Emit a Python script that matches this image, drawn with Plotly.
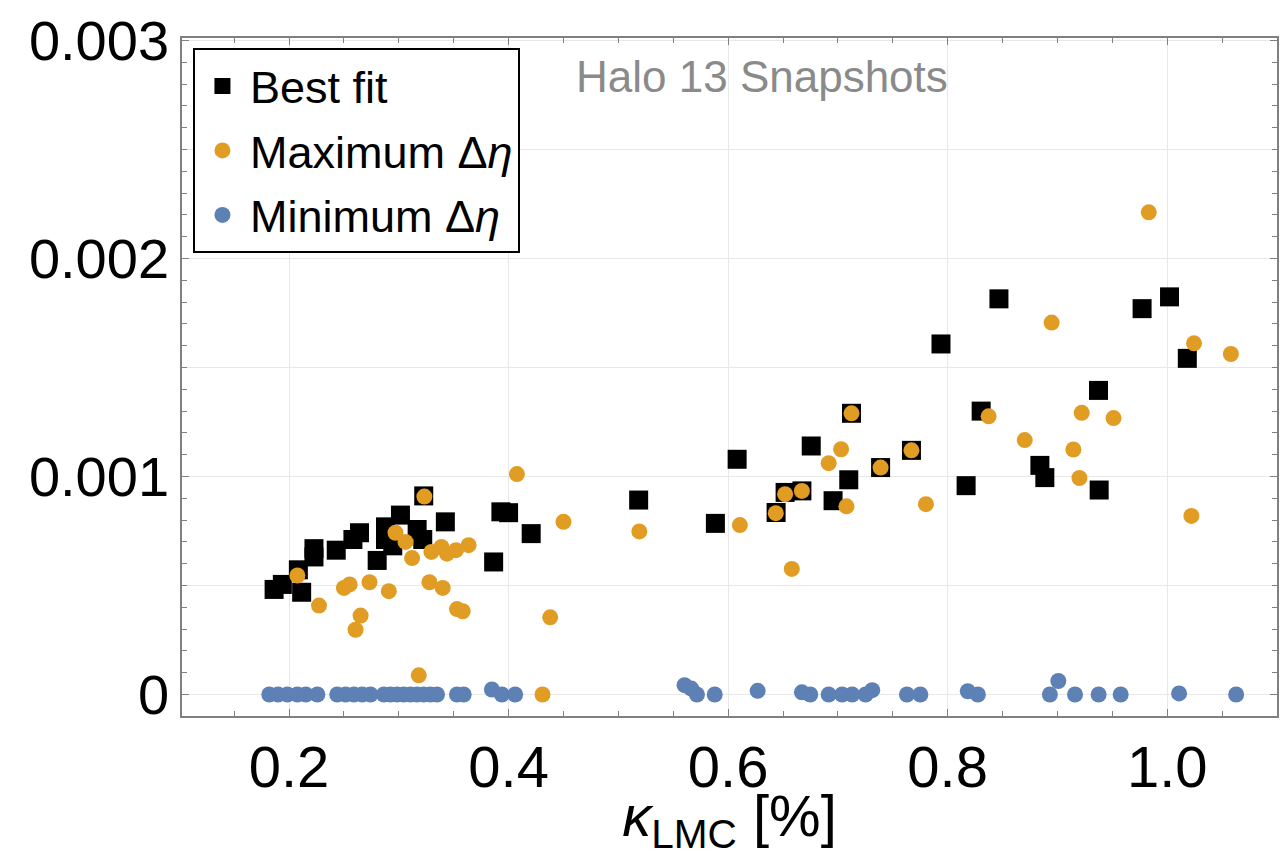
import plotly.graph_objects as go

# ---------------- data ----------------
best_x = [0.1864, 0.1939, 0.2085, 0.2115, 0.2227, 0.2227, 0.243, 0.2582, 0.2642, 0.2803,
          0.2879, 0.3015, 0.2879, 0.2945, 0.3167, 0.3218, 0.3227, 0.3424, 0.3864, 0.393,
          0.400, 0.4206, 0.5185, 0.5884, 0.6082, 0.6437, 0.6519, 0.6672, 0.6757, 0.6956,
          0.7099, 0.7124, 0.7389, 0.767, 0.7939, 0.8168, 0.8305, 0.8467, 0.884, 0.8885,
          0.9374, 0.938, 0.9771, 1.0021, 1.0183]
best_y = [0.000482, 0.000505, 0.000572, 0.000469, 0.000669, 0.000631, 0.000662, 0.000711, 0.000742, 0.000615,
          0.000769, 0.000823, 0.000711, 0.000682, 0.000757, 0.000711, 0.000911, 0.000792, 0.000608, 0.000838,
          0.000834, 0.000738, 0.000892, 0.000785, 0.001079, 0.000835, 0.000927, 0.000934, 0.00114, 0.000889,
          0.000985, 0.00129, 0.001041, 0.00112, 0.001608, 0.000958, 0.0013, 0.001815, 0.001051, 0.000995,
          0.001395, 0.000938, 0.00177, 0.001824, 0.001542]

max_x = [0.2076, 0.2273, 0.25, 0.2552, 0.2652, 0.2606, 0.2733, 0.2909, 0.297, 0.3061,
         0.3121, 0.3182, 0.3233, 0.3297, 0.3388, 0.3439, 0.3521, 0.3636, 0.3279, 0.34,
         0.353, 0.3582, 0.4076, 0.4379, 0.45, 0.4309, 0.5191, 0.6107, 0.6434, 0.6519,
         0.658, 0.6672, 0.6916, 0.7029, 0.7078, 0.7124, 0.7389, 0.767, 0.7802, 0.8373,
         0.8702, 0.8947, 0.9145, 0.92, 0.9221, 0.9511, 0.9832, 1.0244, 1.022, 1.058]
max_y = [0.000546, 0.000408, 0.000489, 0.000505, 0.000362, 0.000297, 0.000515, 0.000474, 0.000742, 0.0007,
         0.000626, 0.000088, 0.000908, 0.000654, 0.000677, 0.000646, 0.000662, 0.000685, 0.000515, 0.000489,
         0.000392, 0.000382, 0.001011, 0.000354, 0.000792, 0.0, 0.000748, 0.000777, 0.000832, 0.000919,
         0.000576, 0.000934, 0.001061, 0.001125, 0.000863, 0.00129, 0.001041, 0.00112, 0.000873, 0.001276,
         0.001167, 0.001706, 0.001124, 0.000993, 0.001292, 0.001268, 0.002212, 0.001611, 0.000819, 0.001562]

min_x = [0.182, 0.190, 0.1985, 0.2076, 0.2152, 0.2258, 0.2439, 0.2515, 0.2591, 0.2667,
         0.2742, 0.2864, 0.2924, 0.2985, 0.3045, 0.3106, 0.3167, 0.3227, 0.3288, 0.3348,
         0.353, 0.3591, 0.3848, 0.3939, 0.406, 0.5603, 0.5664, 0.5716, 0.5878, 0.6269,
         0.6672, 0.6748, 0.6916, 0.7038, 0.713, 0.7252, 0.7313, 0.7629, 0.7751, 0.8183,
         0.8275, 0.8931, 0.9008, 0.916, 0.9375, 0.9576, 1.0108, 1.0628]
min_y = [0.0, 0.0, 0.0, 0.0, 0.0, 0.0, 0.0, 0.0, 0.0, 0.0,
         0.0, 0.0, 0.0, 0.0, 0.0, 0.0, 0.0, 0.0, 0.0, 0.0,
         0.0, 0.0, 0.000023, 0.0, 0.0, 0.000043, 0.000027, 0.0, 0.0, 0.000017,
         0.00001, 0.0, 0.0, 0.0, 0.0, 0.0, 0.00002, 0.0, 0.0, 0.000015,
         0.0, 0.0, 0.000062, 0.0, 0.0, 0.0, 0.000005, 0.0]

y_tickvals = [0.0, 0.001, 0.002, 0.003]
y_ticktext = ["0", "0.001", "0.002", "0.003"]
y_halfgrid = [0.0005, 0.0015, 0.0025]

ORANGE = "#E19C24"
BLUE = "#5E81B5"
FONT = "Liberation Sans, Arial, Helvetica, sans-serif"
GRID = "#e8e8e8"
FRAME = "#808080"

fig = go.Figure()
fig.add_trace(go.Scatter(x=best_x, y=best_y, mode="markers", name="Best fit",
                         legendgroup="a",
                         marker=dict(symbol="square", size=19, color="black",
                                     line=dict(width=0))))
fig.add_trace(go.Scatter(x=max_x, y=max_y, mode="markers", name="Maximum Δ<i>η</i>",
                         legendgroup="b",
                         marker=dict(symbol="circle", size=16, color=ORANGE,
                                     line=dict(width=0))))
fig.add_trace(go.Scatter(x=min_x, y=min_y, mode="markers", name="Minimum Δ<i>η</i>",
                         legendgroup="c",
                         marker=dict(symbol="circle", size=16, color=BLUE,
                                     line=dict(width=0))))

shapes = [dict(type="line", xref="paper", x0=0, x1=1, yref="y", y0=v, y1=v,
               layer="below", line=dict(color=GRID, width=1)) for v in y_halfgrid]

fig.update_layout(
    width=1283, height=857,
    margin=dict(l=182, r=6, t=38, b=141, pad=0, autoexpand=False),
    paper_bgcolor="white", plot_bgcolor="white",
    font=dict(family=FONT, color="black"),
    showlegend=True,
    legend=dict(x=0.01, y=0.985, xanchor="left", yanchor="top",
                bgcolor="white", bordercolor="black", borderwidth=2,
                font=dict(size=45, family=FONT), tracegroupgap=3,
                itemwidth=45),
    shapes=shapes,
    annotations=[dict(text="Halo 13 Snapshots", x=0.5297, y=0.9425,
                      xref="paper", yref="paper", showarrow=False,
                      xanchor="center", yanchor="middle",
                      font=dict(size=44, color="#8a8a8a", family=FONT))],
)

fig.update_xaxes(
    range=[0.1025, 1.1], tickmode="linear", tick0=0.2, dtick=0.2,
    tickformat=".1f", automargin=False,
    showgrid=True, gridcolor=GRID, gridwidth=1,
    zeroline=False,
    showline=True, linecolor=FRAME, linewidth=1.5, mirror="ticks",
    ticks="inside", ticklen=7, tickcolor=FRAME, tickwidth=1,
    minor=dict(tickmode="linear", tick0=0.0, dtick=0.05, ticks="inside",
               ticklen=5, tickcolor=FRAME, showgrid=False),
    tickfont=dict(size=58, family=FONT),
    title=dict(text="<i>κ</i><sub>LMC</sub> [%]", font=dict(size=58, family=FONT),
               standoff=2),
)
fig.update_yaxes(
    range=[-0.0000986, 0.0030115], tickmode="array",
    tickvals=y_tickvals, ticktext=y_ticktext, automargin=False,
    showgrid=True, gridcolor=GRID, gridwidth=1,
    zeroline=False,
    showline=True, linecolor=FRAME, linewidth=1.5, mirror="ticks",
    ticks="inside", ticklen=7, tickcolor=FRAME, tickwidth=1,
    minor=dict(tickmode="linear", tick0=0.0, dtick=0.0001, ticks="inside",
               ticklen=5, tickcolor=FRAME, showgrid=False),
    tickfont=dict(size=56, family=FONT),
)

fig.write_html("out.html")
